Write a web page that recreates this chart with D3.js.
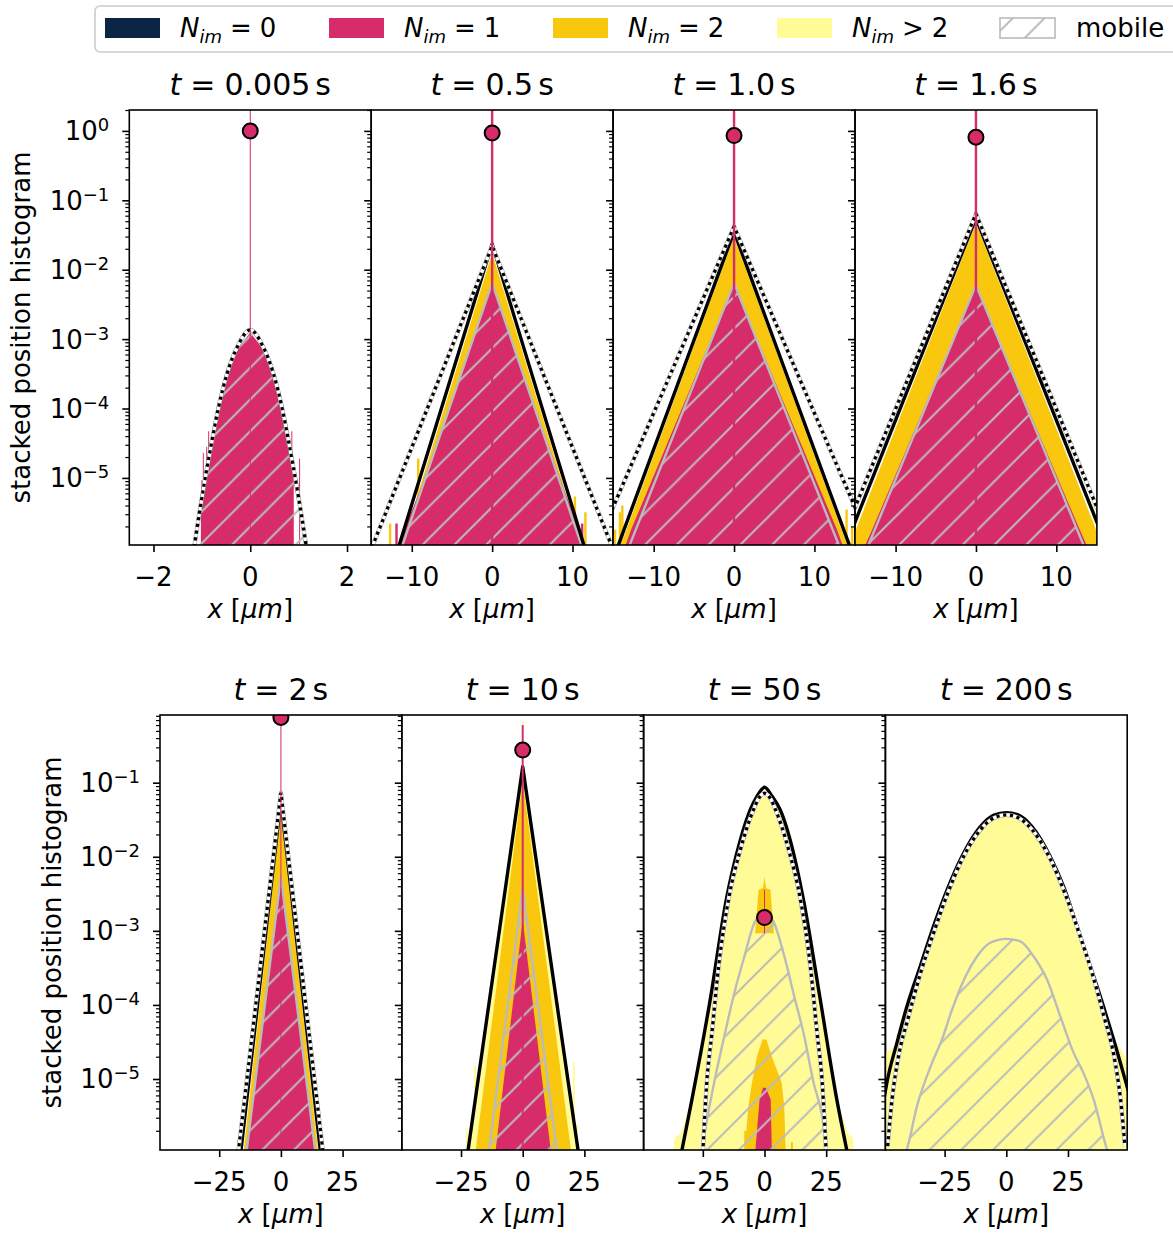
<!DOCTYPE html>
<html><head><meta charset="utf-8">
<script src="https://cdn.jsdelivr.net/npm/d3@7"></script>
<style>
body{margin:0;background:#fff;}
svg{font-family:"DejaVu Sans",sans-serif;}
</style></head><body>
<svg id="chart" width="1173" height="1235"></svg>
<script>
// ================= DATA =================
const tTitles = ["0.005", "0.5", "1.0", "1.6", "2", "10", "50", "200"];
const xDomainsTop = [[-2.5, 2.5], [-15.05, 15.05], [-15.05, 15.05], [-15.05, 15.05]];
const xDomainsBottom = [[-49, 49], [-49, 49], [-49, 49], [-49, 49]];
const xTicksTop = [[-2, 0, 2], [-10, 0, 10], [-10, 0, 10], [-10, 0, 10]];
const xTicksBottom = [-25, 0, 25];
const yDomainTop = [1.08e-6, 2.0];
const yDomainBottom = [1.1e-6, 0.82];
const yTickExpTop = [0, -1, -2, -3, -4, -5];
const yTickExpBottom = [-1, -2, -3, -4, -5];
const markerValues = [1.0, 0.935, 0.856, 0.81, 0.76, 0.276, 1.51e-3, null];
const legendSymbols = ["=", "=", "=", ">"];
const legendCounts = ["0", "1", "2", "2"];

// [x, value] ; tails: [x, value, layer] ; stems: [lo, hi, layer]
// Panel 1: t = 0.005 s
const p1Theory = [[-1.16,1e-6],[-1.05,3.16e-6],[-0.93,1e-5],[-0.80,3.16e-5],[-0.66,1e-4],[-0.48,3.16e-4],[-0.26,7.9e-4],[0,1.36e-3],[0.26,7.9e-4],[0.48,3.16e-4],[0.66,1e-4],[0.80,3.16e-5],[0.93,1e-5],[1.05,3.16e-6],[1.16,1e-6]];
const p1Approx = [[-1.16,1e-6],[-1.05,3.16e-6],[-0.93,1e-5],[-0.80,3.16e-5],[-0.66,1e-4],[-0.48,3.16e-4],[-0.26,7.9e-4],[0,1.36e-3],[0.26,7.9e-4],[0.48,3.16e-4],[0.66,1e-4],[0.80,3.16e-5],[0.93,1e-5],[1.05,3.16e-6],[1.16,1e-6]];
const p1Mobile = [[-1.15,1e-6],[-1.04,3.16e-6],[-0.925,1e-5],[-0.795,3.16e-5],[-0.655,1e-4],[-0.475,3.16e-4],[-0.255,7.9e-4],[0,1.32e-3],[0.255,7.9e-4],[0.475,3.16e-4],[0.655,1e-4],[0.795,3.16e-5],[0.925,1e-5],[1.04,3.16e-6],[1.15,1e-6]];
const p1N1 = [[-1.02,1e-6],[-1.02,3.6e-6],[-0.93,9e-6],[-0.80,2.9e-5],[-0.66,9e-5],[-0.48,2.9e-4],[-0.26,7.2e-4],[0,1.25e-3],[0.26,7.2e-4],[0.48,2.9e-4],[0.66,9e-5],[0.80,2.9e-5],[0.9,1.3e-5],[0.9,1e-6]];
const p1Tails = [[-1.0,9.3e-6,1],[-0.97,2.3e-5,1],[-0.9,2.8e-5,1],[-0.86,4.7e-5,1],[-0.76,5.5e-5,1],[0.76,5.5e-5,1],[0.86,4.7e-5,1],[1.02,1.9e-5,1]];
const p1Stems = [[1e-7, 100, 1]];

// Panel 2: t = 0.5 s
const p2Theory = [[-11.65,1e-6],[0,0.0235],[11.5,1e-6]];
const p2Approx = [[-14.95,1e-6],[0,0.0220],[14.95,1e-6]];
const p2Mobile = [[-11.25,1e-6],[0,6.4e-3],[11.2,1e-6]];
const p2N2 = [[-11.3,1e-6],[0,0.0175],[11.25,1e-6]];
const p2N1 = [[-11.55,1e-6],[-10.8,2.0e-6],[-9,6.5e-6],[0,6.2e-3],[9,6.5e-6],[10.8,2.0e-6],[11.5,1e-6]];
const p2Tails = [[-12.7,2.2e-6,2],[-11.9,2.2e-6,1],[-9.2,1.9e-5,2],[10.3,5.4e-6,2],[11.6,3.2e-6,2],[11.2,2.2e-6,1]];
const p2Stems = [[1e-7, 100, 1]];

// Panel 3: t = 1.0 s
const p3Theory = [[-14.5,1e-6],[0,0.0354],[14.45,1e-6]];
const p3Approx = [[-17.2,1e-6],[0,0.0417],[17.2,1e-6]];
const p3Mobile = [[-13.1,1e-6],[0,6.4e-3],[13.15,1e-6]];
const p3N2 = [[-14.2,1e-6],[0,0.030],[14.2,1e-6]];
const p3N1 = [[-13.6,1e-6],[-12.8,1.8e-6],[0,6.2e-3],[12.8,1.8e-6],[13.6,1e-6]];
const p3Tails = [[-14.95,1.5e-6,3],[-14.8,1.8e-6,2],[-14.2,3.2e-6,2],[-13.9,4.0e-6,2],[14.0,3.5e-6,2],[14.7,2.0e-6,2]];
const p3Stems = [[1e-7, 100, 1]];

// Panel 4: t = 1.6 s
const p4Theory = [[-16.3,1e-6],[0,0.0552],[16.3,1e-6]];
const p4Approx = [[-17.1,1e-6],[0,0.0637],[17.1,1e-6]];
const p4Mobile = [[-13.5,1e-6],[0,6.0e-3],[13.5,1e-6]];
const p4N2 = [[-15.8,1e-6],[0,0.047],[15.8,1e-6]];
const p4N1 = [[-13.9,1e-6],[-13,1.7e-6],[0,5.8e-3],[13,1.7e-6],[13.9,1e-6]];
const p4Tails = [[-14.8,1.6e-6,3],[13.4,3.0e-6,3],[14.6,6.0e-6,3],[-12.6,8e-6,2]];
const p4Stems = [[1e-7, 100, 1]];

// Panel 5: t = 2 s
const p5Theory = [[-16.3,1e-6],[0,0.0585],[16.1,1e-6]];
const p5Approx = [[-17.3,1e-6],[0,0.0733],[17.1,1e-6]];
const p5Mobile = [[-14.0,1e-6],[0,5.4e-3],[14.0,1e-6]];
const p5N2 = [[-15.2,1e-6],[0,0.040],[15.2,1e-6]];
const p5N1 = [[-14.2,1e-6],[0,5.0e-3],[14.0,1e-6]];
const p5Tails = [[-17.4,1.5e-6,2],[-17.0,1.3e-6,3],[16.2,1.9e-6,2]];
const p5Stems = [[1e-7, 100, 1]];

// Panel 6: t = 10 s
const p6Theory = [[-22.3,1e-6],[0,0.164],[22.6,1e-6]];
const p6Mobile = [[-13.8,1e-6],[0,3.8e-3],[14.0,1e-6]];
const p6N3 = [[-22.0,1e-6],[0,0.150],[22.3,1e-6]];
const p6N2 = [[-19.2,1e-6],[0,0.109],[19.7,1e-6]];
const p6N1 = [[-11.1,1e-6],[0,1.4e-3],[11.5,1e-6]];
const p6Tails = [[-22.6,2.1e-6,3],[-19.3,1.5e-5,3],[20.7,1.7e-5,3],[21.8,2.5e-6,3]];
const p6Stems = [[1e-7, 0.60, 1], [0.60, 0.66, 3]];

// Panel 7: t = 50 s
const p7Theory = [[-33.7,1e-6],[-29.4,5.3e-6],[-22.0,1.18e-4],[-15.5,2.62e-3],[-9.8,0.0169],[-5.8,0.0429],[-3,0.066],[0,0.0867],[3,0.066],[6.4,0.0429],[10.4,0.0169],[15.8,2.62e-3],[22.6,1.18e-4],[29.3,5.3e-6],[33.6,1e-6]];
const p7Approx = [[-25.0,1e-6],[-23.4,8.9e-6],[-21.3,4.2e-5],[-18.6,3.3e-4],[-14.6,2.62e-3],[-9.8,0.0124],[-4.5,0.0429],[-2,0.064],[0,0.0719],[2,0.064],[4.5,0.0429],[9.8,0.0124],[14.6,2.62e-3],[18.6,3.3e-4],[21.3,4.2e-5],[23.4,8.9e-6],[25.0,1e-6]];
const p7Mobile = [[-25.6,1e-6],[-24.0,2.1e-6],[-20.7,8.0e-6],[-16.6,3.4e-5],[-11.9,1.6e-4],[-8.5,4.1e-4],[-3.8,1.34e-3],[0,1.74e-3],[3.6,1.34e-3],[7.7,5.0e-4],[12.4,1.17e-4],[15.8,4.2e-5],[19.9,8.9e-6],[23.3,3.2e-6],[25.4,1e-6]];
const p7N3 = [[-37,1e-6],[-36.5,1.6e-6],[-33.7,1.9e-6],[-29.4,5.5e-6],[-22,1.15e-4],[-15.5,2.5e-3],[-9.8,0.016],[-5.8,0.040],[-3,0.062],[0,0.079],[3,0.062],[6.4,0.040],[10.4,0.016],[15.8,2.5e-3],[22.6,1.15e-4],[29.3,5.5e-6],[33.6,1.9e-6],[35.8,1.6e-6],[36.3,1e-6]];
const p7N2 = [[-8.2,1e-6],[-7.8,1.4e-6],[-6.5,4.3e-6],[-5.1,8.9e-6],[-3.1,2.0e-5],[-0.8,3.4e-5],[0.8,3.4e-5],[3.0,2.0e-5],[7.0,8.9e-6],[8.0,4.3e-6],[8.6,1e-6]];
const p7N1 = [[-3.8,1e-6],[-2.0,5.3e-6],[-0.6,7.6e-6],[0.6,7.6e-6],[2.5,5.3e-6],[3.0,1e-6]];
const p7GoldSpike = [[-3.8,9.3e-4,9.3e-4],[-2.4,9.3e-4,3.6e-3],[-0.6,9.3e-4,3.8e-3],[0,9.3e-4,5.4e-3],[0.6,9.3e-4,3.8e-3],[2.4,9.3e-4,3.6e-3],[3.8,9.3e-4,9.3e-4]];
const p7Tails = [[-7.8,2.0e-6,2],[11.1,1.4e-6,2]];
const p7Stems = [[9.3e-4, 3.6e-3, 1]];

// Panel 8: t = 200 s
const p8Theory = [[-49.5,5.5e-6],[-48.4,8.9e-6],[-44.3,3.1e-5],[-40.3,9.5e-5],[-34.9,3.3e-4],[-29.5,1.15e-3],[-24.0,3.58e-3],[-18.0,0.0101],[-10.5,0.0255],[-5,0.0365],[0,0.0394],[5,0.0365],[10.4,0.0255],[17.8,0.0101],[23.2,3.98e-3],[28.7,1.15e-3],[34.1,3.3e-4],[39.4,9.5e-5],[43.5,3.4e-5],[48.9,8.0e-6],[49.5,6.8e-6]];
const p8Approx = [[-48.1,1.24e-6],[-46.3,5.3e-6],[-43.7,2.0e-5],[-39.6,7.0e-5],[-34.9,2.6e-4],[-29.5,9.3e-4],[-24.0,3.06e-3],[-18.0,9.08e-3],[-10.5,0.0231],[-5,0.0335],[0,0.0367],[5,0.0335],[10.5,0.0231],[18,9.08e-3],[24,3.06e-3],[29.5,9.3e-4],[34.9,2.6e-4],[39.6,7.0e-5],[43.7,2.0e-5],[46.3,5.3e-6],[48.1,1.24e-6]];
const p8Mobile = [[-40.8,1e-6],[-40.3,1.12e-6],[-36.2,4.3e-6],[-30.1,1.65e-5],[-26.1,3.4e-5],[-22.0,8.6e-5],[-16.6,2.4e-4],[-11.9,4.5e-4],[-6.5,6.9e-4],[0,7.8e-4],[5.7,7.2e-4],[11.1,4.5e-4],[16.5,2.2e-4],[21.9,7.0e-5],[27.3,2.25e-5],[31.3,1.2e-5],[35.4,5.3e-6],[40.8,1.12e-6],[41.3,1e-6]];
const p8N3 = [[-49.5,2.2e-5],[-46,2.6e-5],[-44.3,3.1e-5],[-40.3,9e-5],[-34.9,3.2e-4],[-29.5,1.1e-3],[-24,3.4e-3],[-18,9.5e-3],[-10.5,0.024],[-5,0.034],[0,0.037],[5,0.034],[10.4,0.024],[17.8,9.5e-3],[23.2,3.8e-3],[28.7,1.1e-3],[34.1,3.2e-4],[39.4,9e-5],[43.5,3.2e-5],[46.5,2.5e-5],[49.5,1.6e-5]];

// ================= STYLE / LAYOUT =================
const colors = {0: "#0c2545", 1: "#d62c69", 2: "#f9c80e", 3: "#fffc97"};
const greyC = "#bbbbbb";
const rowTop = [110, 715], rowH = 435;
const colLeft = [[129.3, 371.2, 613.1, 855.0], [160, 401.8, 643.6, 885.4]];
const panelW = [241.9, 241.8];
const binW = [0.02, 0.3, 0.3, 0.3, 0.8, 0.8, 0.8, 0.8];
const stemW = [0.02, 0.3, 0.3, 0.3, 0.4, 0.8, 0.4, 0.4];
const smooth = [true, false, false, false, false, false, true, true];
const FS = 26;

const panels = [
  {xd: xDomainsTop[0], xt: xTicksTop[0], theory: p1Theory, approx: p1Approx, mobile: p1Mobile, n3: null, n2: null, n1: p1N1, pieces: [], tails: p1Tails, stems: p1Stems},
  {xd: xDomainsTop[1], xt: xTicksTop[1], theory: p2Theory, approx: p2Approx, mobile: p2Mobile, n3: null, n2: p2N2, n1: p2N1, pieces: [], tails: p2Tails, stems: p2Stems},
  {xd: xDomainsTop[2], xt: xTicksTop[2], theory: p3Theory, approx: p3Approx, mobile: p3Mobile, n3: null, n2: p3N2, n1: p3N1, pieces: [], tails: p3Tails, stems: p3Stems},
  {xd: xDomainsTop[3], xt: xTicksTop[3], theory: p4Theory, approx: p4Approx, mobile: p4Mobile, n3: null, n2: p4N2, n1: p4N1, pieces: [], tails: p4Tails, stems: p4Stems},
  {xd: xDomainsBottom[0], xt: xTicksBottom, theory: p5Theory, approx: p5Approx, mobile: p5Mobile, n3: null, n2: p5N2, n1: p5N1, pieces: [], tails: p5Tails, stems: p5Stems},
  {xd: xDomainsBottom[1], xt: xTicksBottom, theory: p6Theory, approx: null, mobile: p6Mobile, n3: p6N3, n2: p6N2, n1: p6N1, pieces: [], tails: p6Tails, stems: p6Stems},
  {xd: xDomainsBottom[2], xt: xTicksBottom, theory: p7Theory, approx: p7Approx, mobile: p7Mobile, n3: p7N3, n2: p7N2, n1: p7N1, pieces: [{layer: 2, pts: p7GoldSpike}], tails: p7Tails, stems: p7Stems},
  {xd: xDomainsBottom[3], xt: xTicksBottom, theory: p8Theory, approx: p8Approx, mobile: p8Mobile, n3: p8N3, n2: null, n1: null, pieces: [], tails: [], stems: []}
];

const svg = d3.select("#chart");
const defs = svg.append("defs");
const hs = 31.77;
defs.append("pattern").attr("id", "hatch").attr("patternUnits", "userSpaceOnUse")
  .attr("width", hs).attr("height", hs).attr("x", 14.3).attr("y", 0)
  .append("path")
  .attr("d", `M0,${hs}L${hs},0M${-hs/2},${hs/2}L${hs/2},${-hs/2}M${hs/2},${1.5*hs}L${1.5*hs},${hs/2}`)
  .attr("stroke", greyC).attr("stroke-width", 2.0).attr("fill", "none");

function minus(v) { return v < 0 ? "\u2212" + (-v) : String(v); }

panels.forEach((p, i) => {
  const row = i < 4 ? 0 : 1, col = i % 4;
  const left = colLeft[row][col], top = rowTop[row], w = panelW[row], h = rowH;
  const x = d3.scaleLinear().domain(p.xd).range([left, left + w]);
  const y = d3.scaleLog().domain(row === 0 ? yDomainTop : yDomainBottom).range([top + h, top]);
  const clipId = "clip" + i;
  defs.append("clipPath").attr("id", clipId).append("rect")
    .attr("x", left).attr("y", top).attr("width", w).attr("height", h);
  const g = svg.append("g").attr("clip-path", `url(#${clipId})`);
  const base = top + h + 10;
  const curve = smooth[i] ? d3.curveMonotoneX : d3.curveLinear;
  const areaB = d3.area().x(d => x(d[0])).y0(base).y1(d => y(d[1]));
  const areaS = d3.area().x(d => x(d[0])).y0(base).y1(d => y(d[1])).curve(curve);
  const lineG = d3.line().x(d => x(d[0])).y(d => y(d[1])).curve(curve);

  [3, 2, 1].forEach(layer => {
    p.tails.filter(t => t[2] === layer).forEach(t => {
      g.append("rect").attr("x", x(t[0] - binW[i] / 2)).attr("width", x(t[0] + binW[i] / 2) - x(t[0] - binW[i] / 2))
        .attr("y", y(t[1])).attr("height", base - y(t[1])).attr("fill", colors[layer]);
    });
    const tp = p["n" + layer];
    if (tp) g.append("path").attr("d", areaB(tp)).attr("fill", colors[layer]);
  });
  p.pieces.forEach(pc => {
    const a = d3.area().x(d => x(d[0])).y0(d => y(d[1])).y1(d => y(d[2]));
    g.append("path").attr("d", a(pc.pts)).attr("fill", colors[pc.layer]);
  });

  // mobile (hatched) part
  g.append("path").attr("d", areaS(p.mobile)).attr("fill", "url(#hatch)");
  g.append("path").attr("d", lineG(p.mobile)).attr("fill", "none").attr("stroke", greyC)
    .attr("stroke-width", 2.4).attr("stroke-linejoin", "round");

  // theory (solid black)
  g.append("path").attr("d", lineG(p.theory)).attr("fill", "none").attr("stroke", "#000")
    .attr("stroke-width", 3.4).attr("stroke-linejoin", "round");

  // approximation (dotted black on white)
  if (p.approx) {
    g.append("path").attr("d", lineG(p.approx)).attr("fill", "none").attr("stroke", "#9a9a9a")
      .attr("stroke-width", 4.2).attr("stroke-linejoin", "round");
    g.append("path").attr("d", lineG(p.approx)).attr("fill", "none").attr("stroke", "#fff")
      .attr("stroke-width", 3.2).attr("stroke-linejoin", "round");
    g.append("path").attr("d", lineG(p.approx)).attr("fill", "none").attr("stroke", "#000")
      .attr("stroke-width", 3.2).attr("stroke-dasharray", "3.2,3.6");
  }

  // immobile bin at x = 0
  p.stems.forEach(s => {
    const x0 = x(-stemW[i] / 2), x1 = x(stemW[i] / 2);
    g.append("rect").attr("x", x0).attr("width", Math.max(1, x1 - x0))
      .attr("y", y(s[1])).attr("height", y(s[0]) - y(s[1])).attr("fill", colors[s[2]]);
  });

  // immobile fraction marker
  const mv = markerValues[i];
  if (mv !== null) {
    g.append("circle").attr("cx", x(0)).attr("cy", y(mv)).attr("r", 7.5)
      .attr("fill", colors[1]).attr("stroke", "#000").attr("stroke-width", 2);
  }

  // axes
  const ax = svg.append("g");
  const majors = (row === 0 ? yTickExpTop : yTickExpBottom).map(e => Math.pow(10, e));
  const minors = y.ticks().filter(v => Math.abs(Math.log10(v) - Math.round(Math.log10(v))) > 1e-6);
  const yMaj = d3.axisLeft(y).tickValues(majors).tickSize(7).tickSizeOuter(0).tickFormat("");
  const yMin = d3.axisLeft(y).tickValues(minors).tickSize(4).tickSizeOuter(0).tickFormat("");
  const gy1 = ax.append("g").attr("transform", `translate(${left},0)`).call(yMaj);
  const gy2 = ax.append("g").attr("transform", `translate(${left},0)`).call(yMin);
  gy1.selectAll("line").attr("stroke-width", 1.6);
  gy2.selectAll("line").attr("stroke-width", 1.2);
  const xAx = d3.axisBottom(x).tickValues(p.xt).tickSize(7).tickSizeOuter(0).tickFormat("");
  const gx = ax.append("g").attr("transform", `translate(0,${top + h})`).call(xAx);
  gx.selectAll("line").attr("stroke-width", 1.6);
  [gy1, gy2, gx].forEach(a => a.select(".domain").remove());
  ax.append("rect").attr("x", left).attr("y", top).attr("width", w).attr("height", h)
    .attr("fill", "none").attr("stroke", "#000").attr("stroke-width", 1.6);

  // x tick labels
  p.xt.forEach(v => {
    ax.append("text").attr("x", x(v)).attr("y", top + h + 41).attr("text-anchor", "middle")
      .attr("font-size", FS).text(minus(v));
  });
  // x label
  const xl = ax.append("text").attr("x", left + w / 2).attr("y", top + h + 73)
    .attr("text-anchor", "middle").attr("font-size", FS);
  xl.append("tspan").attr("font-style", "italic").text("x");
  xl.append("tspan").attr("dx", 8).text("[");
  xl.append("tspan").attr("font-style", "italic").text("\u03bcm");
  xl.append("tspan").text("]");

  // title
  const tt = ax.append("text").attr("x", left + w / 2).attr("y", top - 15)
    .attr("text-anchor", "middle").attr("font-size", 30);
  tt.append("tspan").attr("font-style", "italic").text("t");
  tt.append("tspan").attr("dx", 9).text("=");
  tt.append("tspan").attr("dx", 9).text(tTitles[i]);
  tt.append("tspan").attr("dx", 5).text("s");

  // y tick labels + y label (first column only)
  if (col === 0) {
    const exps = row === 0 ? yTickExpTop : yTickExpBottom;
    exps.forEach(e => {
      const yy = y(Math.pow(10, e));
      const t = ax.append("text").attr("x", left - 20).attr("y", yy + 9.5)
        .attr("text-anchor", "end").attr("font-size", FS);
      t.append("tspan").text("10");
      t.append("tspan").attr("font-size", 18).attr("dy", -9).text(minus(e));
    });
    const lx = row === 0 ? 30 : 61;
    ax.append("text").attr("transform", `translate(${lx},${top + h / 2}) rotate(-90)`)
      .attr("text-anchor", "middle").attr("font-size", FS).text("stacked position histogram");
  }
});

// ================= LEGEND =================
const lg = svg.append("g");
lg.append("rect").attr("x", 95).attr("y", 6).attr("width", 1110).attr("height", 46).attr("rx", 5)
  .attr("fill", "#fff").attr("stroke", "#cccccc").attr("stroke-width", 1.6);
const swX = [105, 329, 553, 777, 1000];
legendCounts.forEach((c, k) => {
  lg.append("rect").attr("x", swX[k]).attr("y", 18).attr("width", 55).attr("height", 20).attr("fill", colors[k]);
  const t = lg.append("text").attr("x", swX[k] + 75).attr("y", 37).attr("font-size", FS);
  t.append("tspan").attr("font-style", "italic").text("N");
  t.append("tspan").attr("font-style", "italic").attr("font-size", 18).attr("dy", 6).text("im");
  t.append("tspan").attr("dy", -6).attr("dx", 8).text(legendSymbols[k]);
  t.append("tspan").attr("dx", 8).text(c);
});
lg.append("rect").attr("x", swX[4]).attr("y", 18).attr("width", 55).attr("height", 20).attr("fill", "#fff");
lg.append("rect").attr("x", swX[4]).attr("y", 18).attr("width", 55).attr("height", 20)
  .attr("fill", "url(#hatch)").attr("stroke", greyC).attr("stroke-width", 1.6);
lg.append("text").attr("x", swX[4] + 76).attr("y", 37).attr("font-size", FS).text("mobile");
</script>
</body></html>
